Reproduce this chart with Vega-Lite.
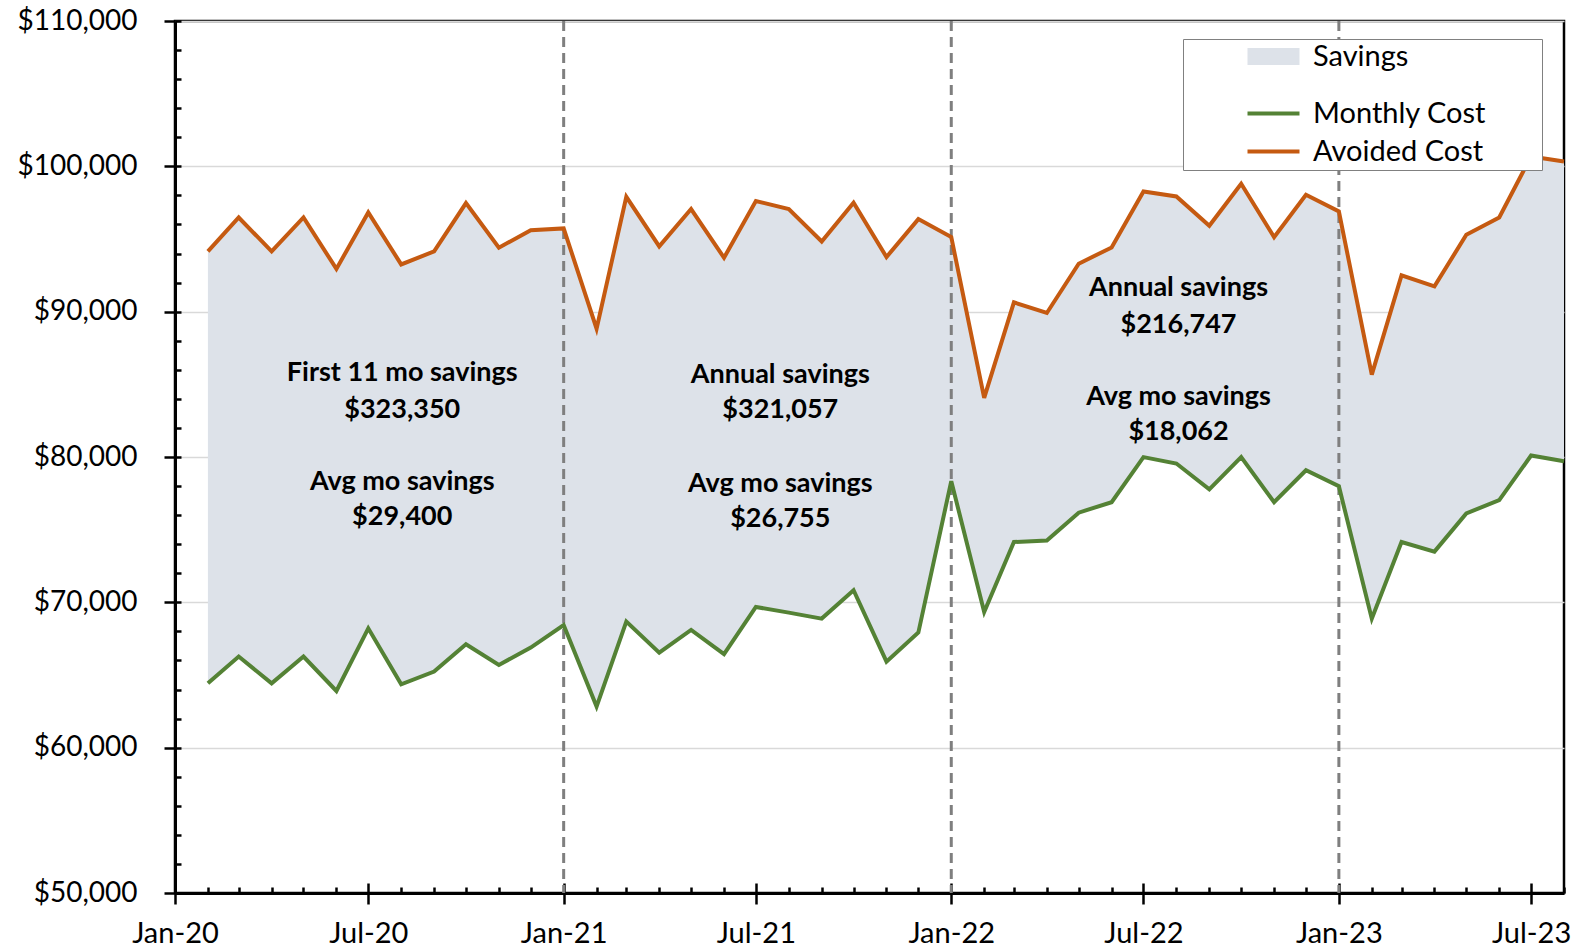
{
  "$schema": "https://vega.github.io/schema/vega-lite/v6.json",
  "width": 1389,
  "height": 872,
  "autosize": {"type": "none"},
  "padding": {"left": 175, "top": 21, "right": 29, "bottom": 56},
  "background": "white",
  "config": {
    "font": "Lato",
    "view": {"stroke": "#000000", "strokeWidth": 2.5},
    "axis": {"domainColor": "#000000", "domainWidth": 3, "tickColor": "#000000", "tickWidth": 2.5, "labelColor": "#000000", "labelFont": "Lato", "title": null}
  },
  "resolve": {"axis": {"x": "independent", "y": "independent"}},
  "datasets": {
    "cost": [
      {"date": "2020-02-01", "monthly": 64430, "avoided": 94150},
      {"date": "2020-03-01", "monthly": 66270, "avoided": 96480},
      {"date": "2020-04-01", "monthly": 64430, "avoided": 94150},
      {"date": "2020-05-01", "monthly": 66270, "avoided": 96480},
      {"date": "2020-06-01", "monthly": 63900, "avoided": 92940},
      {"date": "2020-07-01", "monthly": 68210, "avoided": 96830},
      {"date": "2020-08-01", "monthly": 64360, "avoided": 93250},
      {"date": "2020-09-01", "monthly": 65240, "avoided": 94150},
      {"date": "2020-10-01", "monthly": 67110, "avoided": 97470},
      {"date": "2020-11-01", "monthly": 65690, "avoided": 94400},
      {"date": "2020-12-01", "monthly": 66890, "avoided": 95610},
      {"date": "2021-01-01", "monthly": 68440, "avoided": 95730},
      {"date": "2021-02-01", "monthly": 62830, "avoided": 88830},
      {"date": "2021-03-01", "monthly": 68670, "avoided": 97900},
      {"date": "2021-04-01", "monthly": 66540, "avoided": 94490},
      {"date": "2021-05-01", "monthly": 68100, "avoided": 97060},
      {"date": "2021-06-01", "monthly": 66430, "avoided": 93710},
      {"date": "2021-07-01", "monthly": 69680, "avoided": 97610},
      {"date": "2021-08-01", "monthly": 69290, "avoided": 97060},
      {"date": "2021-09-01", "monthly": 68880, "avoided": 94830},
      {"date": "2021-10-01", "monthly": 70830, "avoided": 97490},
      {"date": "2021-11-01", "monthly": 65920, "avoided": 93760},
      {"date": "2021-12-01", "monthly": 67920, "avoided": 96370},
      {"date": "2022-01-01", "monthly": 78340, "avoided": 95130},
      {"date": "2022-02-01", "monthly": 69330, "avoided": 84070},
      {"date": "2022-03-01", "monthly": 74150, "avoided": 90640},
      {"date": "2022-04-01", "monthly": 74260, "avoided": 89910},
      {"date": "2022-05-01", "monthly": 76170, "avoided": 93300},
      {"date": "2022-06-01", "monthly": 76890, "avoided": 94420},
      {"date": "2022-07-01", "monthly": 79990, "avoided": 98270},
      {"date": "2022-08-01", "monthly": 79550, "avoided": 97930},
      {"date": "2022-09-01", "monthly": 77770, "avoided": 95910},
      {"date": "2022-10-01", "monthly": 79990, "avoided": 98800},
      {"date": "2022-11-01", "monthly": 76890, "avoided": 95130},
      {"date": "2022-12-01", "monthly": 79090, "avoided": 98040},
      {"date": "2023-01-01", "monthly": 77990, "avoided": 96900},
      {"date": "2023-02-01", "monthly": 68880, "avoided": 85670},
      {"date": "2023-03-01", "monthly": 74150, "avoided": 92500},
      {"date": "2023-04-01", "monthly": 73490, "avoided": 91740},
      {"date": "2023-05-01", "monthly": 76120, "avoided": 95290},
      {"date": "2023-06-01", "monthly": 77030, "avoided": 96480},
      {"date": "2023-07-01", "monthly": 80100, "avoided": 100680},
      {"date": "2023-08-01", "monthly": 79710, "avoided": 100330}
    ],
    "years": [
      {"date": "2021-01-01"},
      {"date": "2022-01-01"},
      {"date": "2023-01-01"}
    ],
    "series": [
      {"series": "Savings"},
      {"series": "Monthly Cost"},
      {"series": "Avoided Cost"}
    ],
    "notes": [
      {"date": "2020-08-02", "value": 85810, "label": "First 11 mo savings"},
      {"date": "2020-08-02", "value": 83265, "label": "$323,350"},
      {"date": "2020-08-02", "value": 78250, "label": "Avg mo savings"},
      {"date": "2020-08-02", "value": 75840, "label": "$29,400"},
      {"date": "2021-07-24", "value": 85670, "label": "Annual savings"},
      {"date": "2021-07-24", "value": 83200, "label": "$321,057"},
      {"date": "2021-07-24", "value": 78110, "label": "Avg mo savings"},
      {"date": "2021-07-24", "value": 75700, "label": "$26,755"},
      {"date": "2022-08-03", "value": 91650, "label": "Annual savings"},
      {"date": "2022-08-03", "value": 89110, "label": "$216,747"},
      {"date": "2022-08-03", "value": 84160, "label": "Avg mo savings"},
      {"date": "2022-08-03", "value": 81750, "label": "$18,062"}
    ]
  },
  "layer": [
    {
      "data": {"name": "cost"},
      "mark": {"type": "area", "color": "#dde2e9", "opacity": 1},
      "encoding": {
        "x": {
          "field": "date",
          "type": "temporal",
          "scale": {"type": "utc", "domain": [{"year": 2020, "month": 1, "date": 1, "utc": true}, {"year": 2023, "month": 8, "date": 1, "utc": true}]},
          "axis": {
            "orient": "bottom",
            "grid": false,
            "tickCount": {"interval": "month", "step": 6},
            "labelExpr": "utcFormat(datum.value, '%b-%y')",
            "tickSize": 11,
            "labelFontSize": 29,
            "labelPadding": 15,
            "labelFlush": false,
            "labelOverlap": false
          }
        },
        "y": {
          "field": "avoided",
          "type": "quantitative",
          "scale": {"domain": [50000, 110000], "nice": false, "zero": false},
          "axis": {
            "orient": "left",
            "values": [50000, 60000, 70000, 80000, 90000, 100000, 110000],
            "format": "$,.0f",
            "grid": true,
            "gridColor": "#d9d9d9",
            "gridWidth": 1.5,
            "tickSize": 11,
            "labelFontSize": 28,
            "labelPadding": 27,
            "labelOverlap": false,
            "labelFlush": false
          }
        },
        "y2": {"field": "monthly"}
      }
    },
    {
      "data": {"name": "years"},
      "mark": {"type": "rule", "color": "#7f7f7f", "strokeWidth": 3, "strokeDash": [10, 6]},
      "encoding": {
        "x": {"field": "date", "type": "temporal", "axis": null}
      }
    },
    {
      "data": {"name": "cost"},
      "mark": {"type": "line", "color": "#548235", "strokeWidth": 4},
      "encoding": {
        "x": {
          "field": "date",
          "type": "temporal",
          "axis": {
            "orient": "top",
            "offset": -872,
            "grid": false,
            "domain": false,
            "labels": false,
            "tickCount": {"interval": "month", "step": 1},
            "tickSize": {"condition": {"test": "utcmonth(datum.value) % 6 === 0", "value": 10}, "value": 6}
          }
        },
        "y": {
          "field": "monthly",
          "type": "quantitative",
          "axis": {
            "orient": "right",
            "offset": -1389,
            "grid": false,
            "domain": false,
            "labels": false,
            "tickCount": 100,
            "values": [50000, 52000, 54000, 56000, 58000, 60000, 62000, 64000, 66000, 68000, 70000, 72000, 74000, 76000, 78000, 80000, 82000, 84000, 86000, 88000, 90000, 92000, 94000, 96000, 98000, 100000, 102000, 104000, 106000, 108000, 110000],
            "tickSize": 6
          }
        }
      }
    },
    {
      "data": {"name": "cost"},
      "mark": {"type": "line", "color": "#c55a11", "strokeWidth": 4},
      "encoding": {
        "x": {"field": "date", "type": "temporal", "axis": null},
        "y": {"field": "avoided", "type": "quantitative", "axis": null}
      }
    },
    {
      "data": {"name": "notes"},
      "mark": {"type": "text", "font": "Lato", "fontWeight": "bold", "fontSize": 27, "color": "#000000", "align": "center", "baseline": "middle"},
      "encoding": {
        "x": {"field": "date", "type": "temporal", "axis": null},
        "y": {"field": "value", "type": "quantitative", "axis": null},
        "text": {"field": "label"}
      }
    },
    {
      "data": {"name": "series"},
      "mark": {"type": "line"},
      "encoding": {
        "color": {
          "field": "series",
          "type": "nominal",
          "scale": {"domain": ["Savings", "Monthly Cost", "Avoided Cost"], "range": ["#dde2e9", "#548235", "#c55a11"]},
          "legend": {
            "orient": "none",
            "legendX": 1008,
            "legendY": 18,
            "title": null,
            "padding": 3,
            "strokeColor": "#808080",
            "fillColor": "#ffffff",
            "labelFont": "Lato",
            "labelFontSize": 29,
            "labelColor": "#000000",
            "labelLimit": 600,
            "symbolSize": 144,
            "symbolType": "M-4.333,0H4.333",
            "symbolOffset": 73,
            "labelOffset": 25,
            "rowPadding": 8,
            "labelExpr": "datum.label + '\u00a0\u00a0\u00a0\u00a0\u00a0\u00a0\u00a0\u200b'"
          }
        },
        "strokeWidth": {
          "field": "series",
          "type": "nominal",
          "scale": {"type": "ordinal", "domain": ["Savings", "Monthly Cost", "Avoided Cost"], "range": [17, 4, 4]},
          "legend": {
            "orient": "none",
            "legendX": 1008,
            "legendY": 18,
            "title": null,
            "padding": 3,
            "strokeColor": "#808080",
            "fillColor": "#ffffff",
            "labelFont": "Lato",
            "labelFontSize": 29,
            "labelColor": "#000000",
            "labelLimit": 600,
            "symbolSize": 144,
            "symbolType": "M-4.333,0H4.333",
            "symbolOffset": 73,
            "labelOffset": 25,
            "rowPadding": 8,
            "labelExpr": "datum.label + '\u00a0\u00a0\u00a0\u00a0\u00a0\u00a0\u00a0\u200b'"
          }
        }
      }
    }
  ]
}
